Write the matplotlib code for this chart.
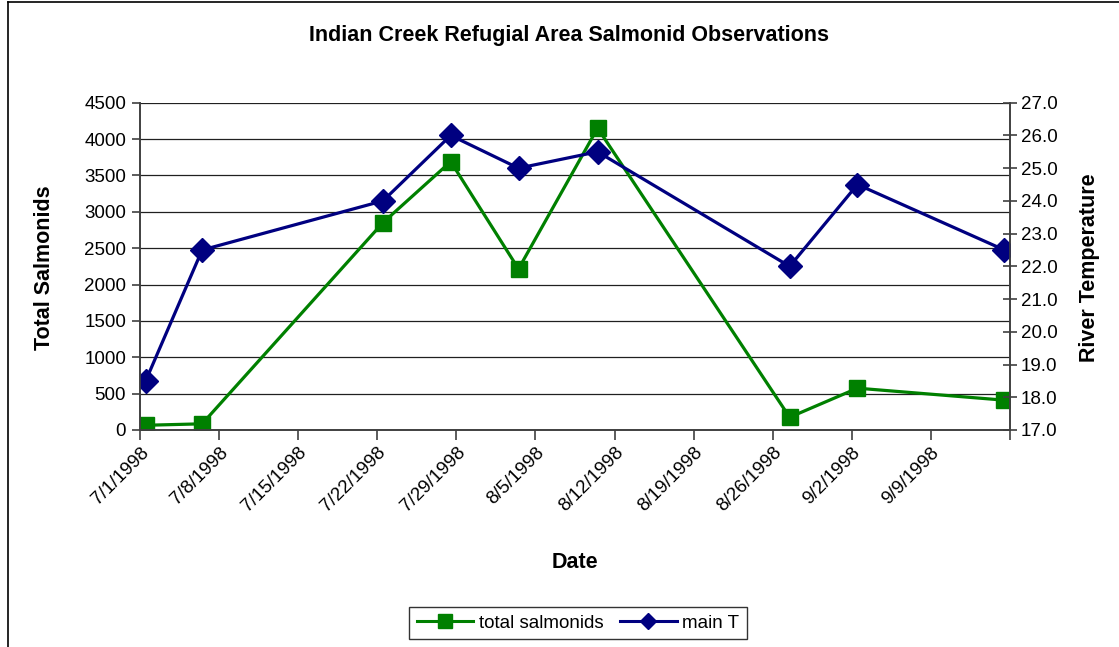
import datetime as dt

import matplotlib
matplotlib.use("Agg")
import matplotlib.pyplot as plt
import matplotlib.dates as mdates
from matplotlib.lines import Line2D
from matplotlib.ticker import FormatStrFormatter

plt.rcParams['font.family'] = ['Liberation Sans', 'DejaVu Sans']

# Observation data
obs_dates = ["7/1/1998", "7/6/1998", "7/22/1998", "7/28/1998", "8/3/1998",
             "8/10/1998", "8/27/1998", "9/2/1998", "9/15/1998"]
total_salmonids = [65, 85, 2850, 3690, 2215, 4150, 175, 575, 410]
main_t = [18.5, 22.5, 24.0, 26.0, 25.0, 25.5, 22.0, 24.5, 22.5]

axis_start = dt.date(1998, 7, 1)
axis_end = dt.date(1998, 9, 16)


def parse(s):
    m, d, y = (int(v) for v in s.split("/"))
    return dt.date(y, m, d)


# each date sits in the middle of its day slot
x = [mdates.date2num(parse(s)) + 0.5 for s in obs_dates]

green = "#008000"
navy = "#000080"

fig = plt.figure(figsize=(11.19, 6.47), dpi=100)
ax = fig.add_axes([140 / 1119, 1 - 430 / 647, 870 / 1119, 327.3 / 647])
ax2 = ax.twinx()

ax.plot(x, total_salmonids, '-', color=green, lw=2.3, marker='s', ms=11.5,
        label='total salmonids')
ax2.plot(x, main_t, '-', color=navy, lw=2.3, marker='D', ms=12.5,
         label='main T')

# x axis: weekly ticks
ticks = [axis_start + dt.timedelta(days=7 * i) for i in range(12)]
ax.set_xlim(mdates.date2num(axis_start), mdates.date2num(axis_end))
ax.set_xticks([mdates.date2num(t) for t in ticks])
ax.set_xticklabels([f"{t.month}/{t.day}/{t.year}" for t in ticks[:-1]] + [""],
                   rotation=45, ha='right', rotation_mode='anchor', fontsize=13.5)

ax.set_ylim(0, 4500)
ax.set_yticks(range(0, 4501, 500))
ax2.set_ylim(17, 27)
ax2.set_yticks(range(17, 28))
ax2.yaxis.set_major_formatter(FormatStrFormatter('%.1f'))

ax.yaxis.grid(True, color='#202020', lw=0.9)
ax.set_axisbelow(True)
for a in (ax, ax2):
    a.spines['top'].set_visible(False)
    for sp in ('left', 'right', 'bottom'):
        a.spines[sp].set_color('#404040')
        a.spines[sp].set_linewidth(1.2)
ax.tick_params(axis='y', labelsize=13.5, length=6, width=1.2, color='#404040', pad=4)
ax.tick_params(axis='x', length=7, width=1.2, color='#404040', pad=3)
ax2.tick_params(axis='y', labelsize=13.5, length=10, width=1.2, color='#404040',
                direction='inout', pad=3)

fig.text(569 / 1119, 1 - 35 / 647, "Indian Creek Refugial Area Salmonid Observations",
         ha='center', va='center', fontsize=15.5, fontweight='bold')
fig.text(575 / 1119, 1 - 563 / 647, "Date", ha='center', va='center',
         fontsize=15.5, fontweight='bold')
fig.text(45 / 1119, 1 - 268 / 647, "Total Salmonids", ha='center', va='center',
         rotation=90, fontsize=15.5, fontweight='bold')
fig.text(1090 / 1119, 1 - 268 / 647, "River Temperature", ha='center', va='center',
         rotation=90, fontsize=15.5, fontweight='bold')

handles = [Line2D([], [], color=green, lw=2.2, marker='s', ms=10),
           Line2D([], [], color=navy, lw=2.2, marker='D', ms=8)]
leg = fig.legend(handles, ['total salmonids', 'main T'], loc='center',
                 bbox_to_anchor=(578 / 1119, 1 - 623 / 647), ncol=2, fontsize=13.5,
                 frameon=True, fancybox=False, edgecolor='black', handlelength=3.0,
                 handletextpad=0.3, columnspacing=0.9, borderpad=0.4)
leg.get_frame().set_linewidth(1.0)

# chart area border
fig.add_artist(Line2D([8 / 1119, 1], [1 - 2 / 647, 1 - 2 / 647], color='black', lw=1.2))
fig.add_artist(Line2D([8 / 1119, 8 / 1119], [0, 1 - 2 / 647], color='black', lw=1.2))

fig.savefig('out.png', dpi=100)
